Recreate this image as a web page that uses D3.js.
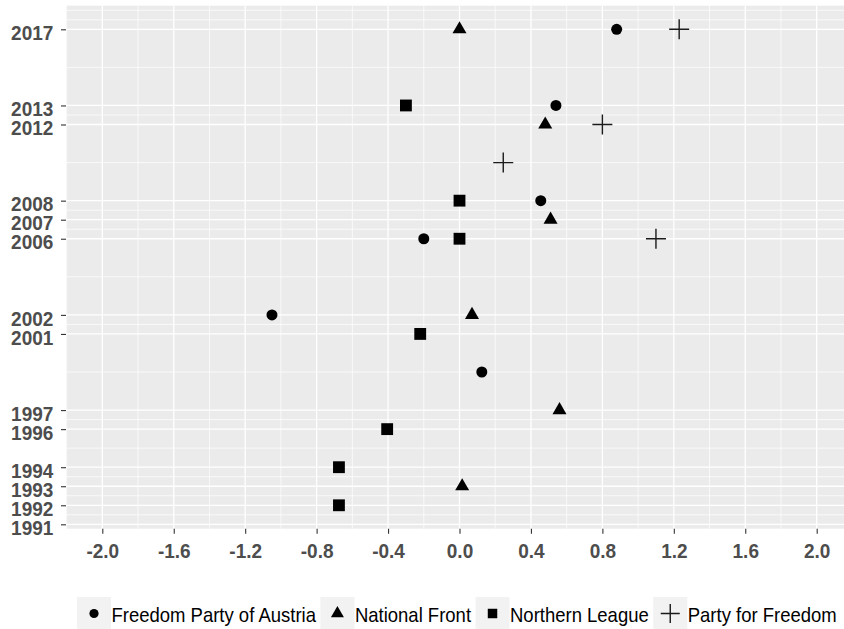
<!DOCTYPE html>
<html><head><meta charset="utf-8">
<script src="https://cdn.jsdelivr.net/npm/d3@7"></script>
<style>body{margin:0;background:#fff}</style>
</head><body><svg id="c" width="844" height="629"></svg>
<script>
const parties = ["Freedom Party of Austria","National Front","Northern League","Party for Freedom"];
const shapes = ["circle","triangle","square","plus"];
const fpoYears = [2017,2013,2008,2006,2002,1999];
const fpoValues = [0.88,0.54,0.455,-0.20,-1.05,0.125];
const nfYears = [2017,2012,2007,2002,1997,1993];
const nfValues = [0.0,0.48,0.51,0.07,0.56,0.015];
const nlYears = [2013,2008,2006,2001,1996,1994,1992];
const nlValues = [-0.30,0.0,0.0,-0.22,-0.405,-0.675,-0.675];
const pvvYears = [2017,2012,2010,2006];
const pvvValues = [1.23,0.80,0.245,1.10];
const yTicks = [1991,1992,1993,1994,1996,1997,2001,2002,2006,2007,2008,2012,2013,2017];
const xTicks = [-2.0,-1.6,-1.2,-0.8,-0.4,0.0,0.4,0.8,1.2,1.6,2.0];

const series = [
  {name: parties[0], shape: shapes[0], years: fpoYears, values: fpoValues},
  {name: parties[1], shape: shapes[1], years: nfYears, values: nfValues},
  {name: parties[2], shape: shapes[2], years: nlYears, values: nlValues},
  {name: parties[3], shape: shapes[3], years: pvvYears, values: pvvValues}
];

const svg = d3.select("#c");
const P = {l: 66, r: 844, t: 5.7, b: 528.7};
const x = d3.scaleLinear().domain([-2.2033, 2.1529]).range([P.l, P.r]);
const y = d3.scaleLinear().domain([1990.77, 2018.24]).range([P.b, P.t]);
const SY = 1.07;

function minorBreaks(b, dom) {
  const bd = b[1] - b[0];
  let bb = b.slice();
  if (dom[0] < bb[0]) bb = [bb[0] - bd].concat(bb);
  if (dom[1] > bb[bb.length - 1]) bb = bb.concat([bb[bb.length - 1] + bd]);
  const out = [];
  for (let i = 0; i < bb.length - 1; i++) { out.push(bb[i]); out.push((bb[i] + bb[i + 1]) / 2); }
  out.push(bb[bb.length - 1]);
  return out.filter(v => v >= dom[0] && v <= dom[1] && !b.some(m => Math.abs(m - v) < 1e-9));
}

svg.append("rect").attr("x", P.l).attr("y", P.t).attr("width", P.r - P.l).attr("height", P.b - P.t).attr("fill", "#EBEBEB");

const grid = svg.append("g");
minorBreaks(yTicks, y.domain()).forEach(v => grid.append("line").attr("x1", P.l).attr("x2", P.r).attr("y1", y(v)).attr("y2", y(v)).attr("stroke", "#fff").attr("stroke-width", 0.7));
minorBreaks(xTicks, x.domain()).forEach(v => grid.append("line").attr("y1", P.t).attr("y2", P.b).attr("x1", x(v)).attr("x2", x(v)).attr("stroke", "#fff").attr("stroke-width", 0.7));
yTicks.forEach(v => grid.append("line").attr("x1", P.l).attr("x2", P.r).attr("y1", y(v)).attr("y2", y(v)).attr("stroke", "#fff").attr("stroke-width", 1.3));
xTicks.forEach(v => grid.append("line").attr("y1", P.t).attr("y2", P.b).attr("x1", x(v)).attr("x2", x(v)).attr("stroke", "#fff").attr("stroke-width", 1.3));

const yAxis = svg.append("g").attr("transform", `translate(${P.l},0)`)
  .call(d3.axisLeft(y).tickValues(yTicks).tickFormat(d => String(d)).tickSize(5).tickPadding(7.7));
yAxis.select(".domain").remove();
yAxis.selectAll(".tick line").attr("stroke", "#333333").attr("stroke-width", 1.1);
yAxis.selectAll(".tick text").attr("x", -12.7).attr("y", 9.5).attr("dy", 0).attr("transform", `scale(1,${SY})`)
  .attr("fill", "#4D4D4D").style("font", "bold 19px 'Liberation Sans', Arial, sans-serif");

const xAxis = svg.append("g").attr("transform", `translate(0,${P.b})`)
  .call(d3.axisBottom(x).tickValues(xTicks).tickFormat(d => d.toFixed(1)).tickSize(5));
xAxis.select(".domain").remove();
xAxis.selectAll(".tick line").attr("stroke", "#333333").attr("stroke-width", 1.1);
xAxis.selectAll(".tick text").attr("y", 29 / SY).attr("dy", 0).attr("transform", `scale(1,${SY})`)
  .attr("fill", "#4D4D4D").style("font", "bold 19px 'Liberation Sans', Arial, sans-serif");

function drawShape(g, shape, big) {
  if (shape === "plus") {
    const h = big ? 10 : 9.5;
    const p = d3.path();
    p.moveTo(-h, 0); p.lineTo(h, 0); p.moveTo(0, -h); p.lineTo(0, h);
    g.append("path").attr("d", p.toString()).attr("fill", "none").attr("stroke", "#1a1a1a").attr("stroke-width", 1.4);
  } else {
    const sizes = big ? {circle: 95, triangle: 85, square: 140} : {circle: 66, triangle: 73, square: 90};
    const type = {circle: d3.symbolCircle, triangle: d3.symbolTriangle, square: d3.symbolSquare}[shape];
    g.append("path").attr("d", d3.symbol().type(type).size(sizes[shape])()).attr("fill", "#000");
  }
}

const pts = svg.append("g");
series.forEach(s => {
  s.years.forEach((yr, i) => {
    const g = pts.append("g").attr("transform", `translate(${x(s.values[i])},${y(yr)})`);
    drawShape(g, s.shape, true);
  });
});

// legend
const leg = svg.append("g");
let lx = 77;
const keyW = 34, keyTop = 597, keyH = 32, cy = 613.5;
series.forEach(s => {
  leg.append("rect").attr("x", lx).attr("y", keyTop).attr("width", keyW).attr("height", keyH).attr("fill", "#F2F2F2");
  const g = leg.append("g").attr("transform", `translate(${lx + keyW / 2},${cy})`);
  drawShape(g, s.shape, false);
  const t = leg.append("text").attr("transform", `translate(${lx + keyW + 0.5},621.5) scale(1,${SY})`)
    .attr("fill", "#000").style("font", "18.5px 'Liberation Sans', Arial, sans-serif").text(s.name);
  const w = t.node().getComputedTextLength();
  lx += keyW + 0.5 + w + 4.5;
});
</script></body></html>
